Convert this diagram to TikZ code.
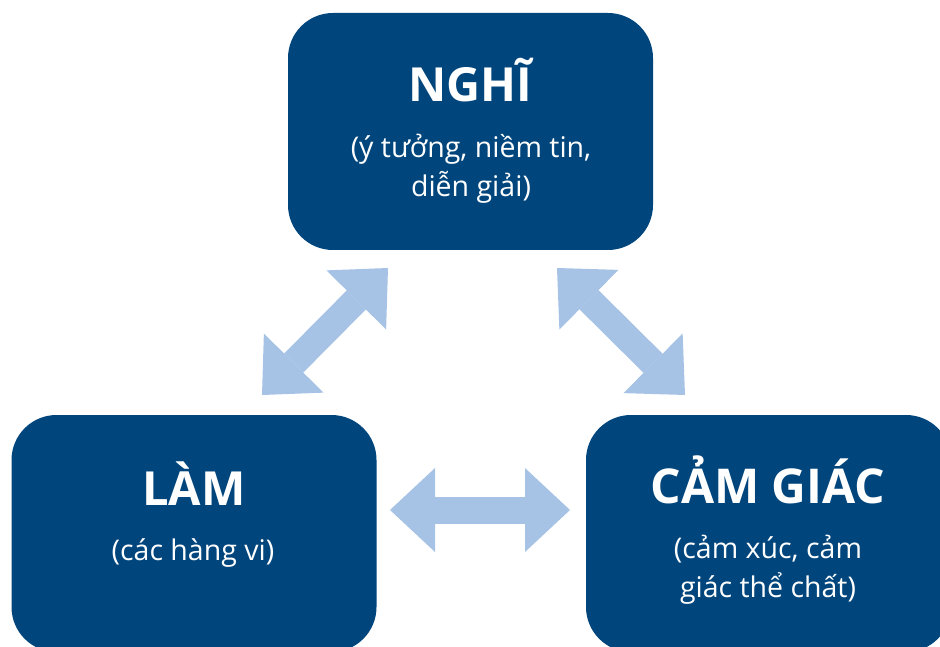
\documentclass[tikz,border=0pt]{standalone}
\usepackage{fontspec}
\setmainfont{Open Sans}
\usetikzlibrary{arrows.meta}
\definecolor{boxblue}{RGB}{0,69,124}
\definecolor{arrowblue}{RGB}{166,195,230}
\begin{document}
\begin{tikzpicture}[x=1pt,y=-1pt,
  box/.style={fill=boxblue, rounded corners=45pt, minimum width=365pt, minimum height=237pt, inner sep=0pt},
  title/.style={text=white, font=\bfseries\fontsize{47}{56}\selectfont, anchor=base, inner sep=0pt},
  sub/.style={text=white, font=\fontsize{28.5}{39}\selectfont, align=center, anchor=base, inner sep=0pt},
  link/.style={draw=arrowblue, line width=27pt, {Triangle[length=45pt,width=84pt,line width'=0pt]}-{Triangle[length=45pt,width=84pt,line width'=0pt]}}]
\useasboundingbox (0,0) rectangle (940,647);
\clip (0,0) rectangle (940,647);

\node[box] (think) at (470.5,131.5) {};
\node[box] (do) at (194,533.5) {};
\node[box] (feel) at (768.5,533.5) {};

\node[title] (thinkT) at (470.5,102) {NGHĨ};
\node[sub] (thinkS) at (471,197) {(ý tưởng, niềm tin,\\ diễn giải)};
\node[title] (doT) at (194,505) {LÀM};
\node[sub] (doS) at (193,560) {(các hàng vi)};
\node[title, font=\bfseries\fontsize{48}{56}\selectfont] (feelT) at (768,503) {CẢM GIÁC};
\node[sub] (feelS) at (768,597) {(cảm xúc, cảm\\ giác thể chất)};

\coordinate (a1) at (262,395);
\coordinate (a2) at (388,268);
\coordinate (b1) at (557,268);
\coordinate (b2) at (685,395);
\coordinate (c1) at (390,510);
\coordinate (c2) at (570,510);
\draw[link] (a1) -- (a2);
\draw[link] (b1) -- (b2);
\draw[link] (c1) -- (c2);
\end{tikzpicture}
\end{document}
